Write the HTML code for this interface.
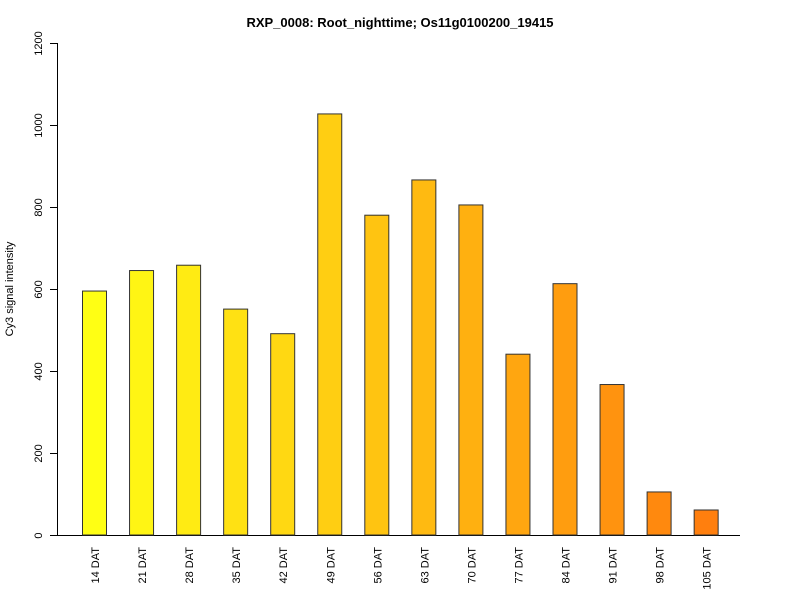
<!DOCTYPE html>
<html><head><meta charset="utf-8"><style>
body{margin:0;background:#fff;font-family:"Liberation Sans",sans-serif}
svg text{font-family:"Liberation Sans",sans-serif}
</style></head><body>
<svg width="800" height="600" xmlns="http://www.w3.org/2000/svg">
<text x="400" y="27" text-anchor="middle" font-size="13" font-weight="bold">RXP_0008: Root_nighttime; Os11g0100200_19415</text>
<text transform="translate(13,289) rotate(-90)" text-anchor="middle" font-size="11">Cy3 signal intensity</text>
<g id="yaxis"></g>
<line x1="53" y1="535.5" x2="740" y2="535.5" stroke="#000"/>
<g id="bars"></g>
<g id="xlabels"></g>
</svg>
<script>
const categories=["14 DAT","21 DAT","28 DAT","35 DAT","42 DAT","49 DAT","56 DAT","63 DAT","70 DAT","77 DAT","84 DAT","91 DAT","98 DAT","105 DAT"];
const values=[595,645,658,551,491,1027,780,866,805,441,613,367,105,61];
const yTicks=[0,200,400,600,800,1000,1200];
const NS="http://www.w3.org/2000/svg";
const y0=535,yTop=43,yMax=1200;
function yS(v){return y0-(v/yMax)*(y0-yTop);}
function xS(i){return 82+i*47.05;}
const bw=24;
const ya=document.getElementById('yaxis');
let l=document.createElementNS(NS,'line');
l.setAttribute('x1',57.5);l.setAttribute('x2',57.5);l.setAttribute('y1',yS(0));l.setAttribute('y2',yS(yMax));l.setAttribute('stroke','#000');


ya.appendChild(l);
yTicks.forEach(t=>{
 const y=Math.round(yS(t))+0.5;
 const tk=document.createElementNS(NS,'line');
 tk.setAttribute('x1',50);tk.setAttribute('x2',57.5);tk.setAttribute('y1',y);tk.setAttribute('y2',y);tk.setAttribute('stroke','#000');
 
 
 ya.appendChild(tk);
 const tx=document.createElementNS(NS,'text');
 tx.setAttribute('transform',`translate(42,${y}) rotate(-90)`);
 tx.setAttribute('text-anchor','middle');tx.setAttribute('font-size','11');
 tx.textContent=t;
 
 
 ya.appendChild(tx);
});
const bg=document.getElementById('bars'),xl=document.getElementById('xlabels');
const n=categories.length;
values.forEach((v,i)=>{
 const f=n>1?i/(n-1):0;
 const g=Math.round(255-f*(255-127)),b=Math.round(20-f*6);
 const r=document.createElementNS(NS,'rect');
 r.setAttribute('x',xS(i)+0.5);r.setAttribute('y',yS(v));r.setAttribute('width',bw);r.setAttribute('height',yS(0)-yS(v));
 r.setAttribute('fill',`rgb(255,${g},${b})`);r.setAttribute('stroke','#333');r.setAttribute('stroke-width','1');
 
 
 bg.appendChild(r);
 const tx=document.createElementNS(NS,'text');
 tx.setAttribute('transform',`translate(${xS(i)+bw/2+5},547) rotate(-90)`);
 tx.setAttribute('text-anchor','end');tx.setAttribute('font-size','11');
 tx.textContent=categories[i];
 
 
 xl.appendChild(tx);
});
</script>
</body></html>
